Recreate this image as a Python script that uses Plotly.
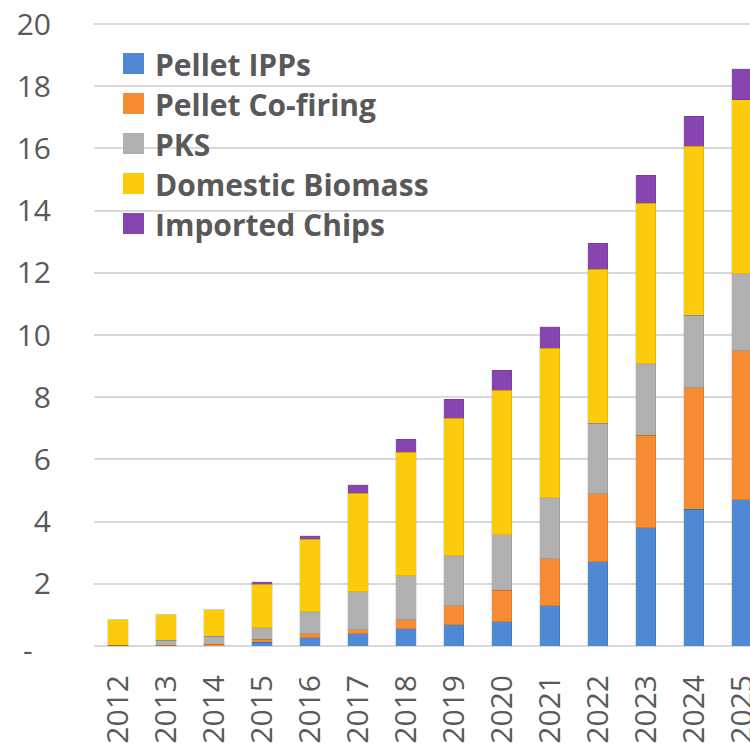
import plotly.graph_objects as go

years = ["2012", "2013", "2014", "2015", "2016", "2017", "2018",
         "2019", "2020", "2021", "2022", "2023", "2024", "2025"]

series_names = ["Pellet IPPs", "Pellet Co-firing", "PKS",
                "Domestic Biomass", "Imported Chips"]

pellet_ipps = [0.00, 0.00, 0.00, 0.12, 0.27, 0.40, 0.55,
               0.68, 0.78, 1.30, 2.71, 3.80, 4.40, 4.70]
pellet_cofiring = [0.03, 0.03, 0.05, 0.09, 0.12, 0.12, 0.29,
                   0.62, 1.02, 1.50, 2.18, 2.98, 3.90, 4.79]
pks = [0.00, 0.16, 0.27, 0.38, 0.71, 1.23, 1.42,
       1.60, 1.77, 1.97, 2.28, 2.30, 2.34, 2.48]
domestic_biomass = [0.81, 0.81, 0.84, 1.39, 2.33, 3.16, 3.97,
                    4.42, 4.66, 4.80, 4.94, 5.16, 5.44, 5.59]
imported_chips = [0.00, 0.00, 0.00, 0.08, 0.11, 0.28, 0.42,
                  0.62, 0.64, 0.69, 0.85, 0.90, 0.96, 1.01]

y_tickvals = [0, 2, 4, 6, 8, 10, 12, 14, 16, 18, 20]
y_ticktext = ["", "2", "4", "6", "8", "10", "12", "14", "16", "18", "20"]
zero_label = "-"

colors = ["#5088D5", "#F58C34", "#B0B0B0", "#FCCB0C", "#8746AF"]

series_values = [pellet_ipps, pellet_cofiring, pks, domestic_biomass, imported_chips]

fig = go.Figure()
for name, vals, col in zip(series_names, series_values, colors):
    fig.add_trace(go.Bar(
        x=years, y=vals, name=name,
        marker=dict(color=col, line=dict(color="rgba(0,0,0,0.10)", width=1)),
        showlegend=False,
    ))

YMAX = 20.1
W, H = 750, 743
ML, MR, MT, MB = 94, 0, 21, 97
pw = W - ML - MR
ph = H - MT - MB


def px_to_paper(px, py):
    return (px - ML) / pw, (H - MB - py) / ph


shapes = []
annotations = []
row_centers = [63.5, 103.5, 143.5, 183.5, 223.5]
for name, col, cy in zip(series_names, colors, row_centers):
    x0, y0 = px_to_paper(123, cy + 10.5)
    x1, y1 = px_to_paper(144, cy - 10.5)
    shapes.append(dict(type="rect", xref="paper", yref="paper",
                       x0=x0, y0=y0, x1=x1, y1=y1,
                       fillcolor=col, line=dict(width=0)))
    tx, ty = px_to_paper(153, cy + 1)
    annotations.append(dict(xref="paper", yref="paper", x=tx, y=ty,
                            xanchor="left", yanchor="middle",
                            text="<b>" + name + "</b>", showarrow=False,
                            font=dict(family="Open Sans", size=30, color="#595959")))

zx, _ = px_to_paper(28, 646)
annotations.append(dict(xref="paper", yref="y", x=zx, y=0, yshift=-3,
                        xanchor="center", yanchor="middle",
                        text=zero_label, showarrow=False,
                        font=dict(family="Open Sans", size=30, color="#595959")))

fig.update_layout(
    width=W, height=H,
    margin=dict(l=ML, r=MR, t=MT, b=MB, pad=0),
    barmode="stack",
    bargap=0.58,
    plot_bgcolor="white",
    paper_bgcolor="white",
    font=dict(family="Open Sans", color="#595959"),
    shapes=shapes,
    annotations=annotations,
    showlegend=False,
)
fig.update_xaxes(
    type="category",
    range=[-0.5, 13.17],
    tickangle=-90,
    tickfont=dict(size=30, color="#595959", family="Open Sans"),
    showgrid=False,
    showline=False,
    ticks="",
    ticklabelstandoff=22,
    automargin=False,
)
fig.update_yaxes(
    range=[0, YMAX],
    tickvals=y_tickvals,
    ticktext=y_ticktext,
    tickfont=dict(size=30, color="#595959", family="Open Sans"),
    showgrid=True,
    gridcolor="#D9D9D9",
    gridwidth=2,
    zeroline=True,
    zerolinecolor="#D9D9D9",
    zerolinewidth=2,
    showline=False,
    ticks="",
    ticklabelstandoff=42,
    automargin=False,
)

fig.write_html("out.html",
               config={"displayModeBar": False},
               post_script="document.body.style.margin='0';document.body.style.overflow='hidden';")
